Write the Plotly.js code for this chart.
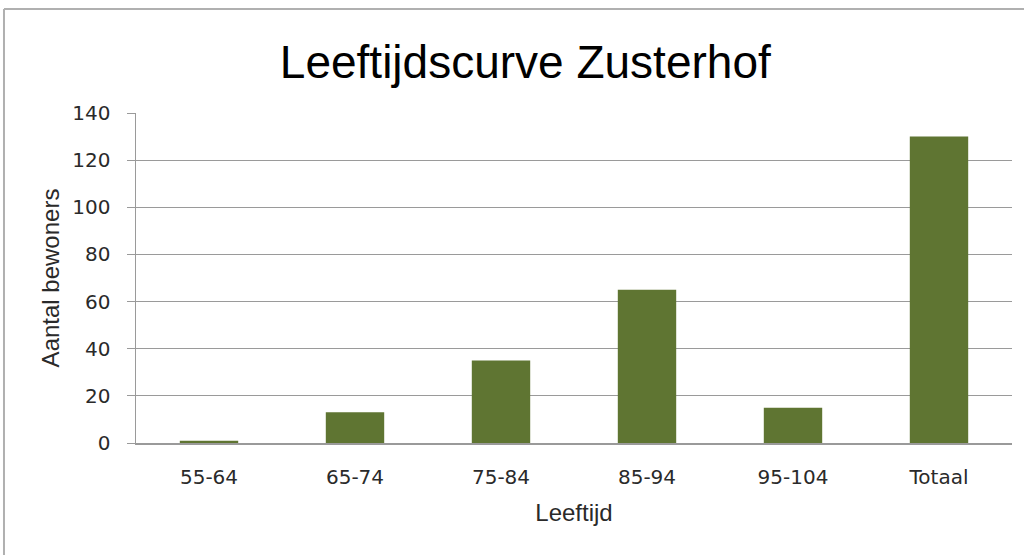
<!DOCTYPE html>
<html>
<head>
<meta charset="utf-8">
<script src="https://cdn.plot.ly/plotly-3.0.1.min.js"></script>
<style>html,body{margin:0;padding:0;background:#fff;}#chart{width:1024px;height:555px;}</style>
</head>
<body>
<div id="chart"></div>
<script>
const categories = ["55-64", "65-74", "75-84", "85-94", "95-104", "Totaal"];
const residents = [1, 13, 35, 65, 15, 130];
const yTicks = [0, 20, 40, 60, 80, 100, 120, 140];

const trace = {
  type: "bar",
  x: categories,
  y: residents,
  marker: {color: "#5f7532"},
  hoverinfo: "x+y"
};

const layout = {
  width: 1024,
  height: 555,
  margin: {l: 136, r: 12, t: 113, b: 112},
  paper_bgcolor: "#ffffff",
  plot_bgcolor: "#ffffff",
  bargap: 0.6,
  showlegend: false,
  title: {
    text: "Leeftijdscurve Zusterhof",
    font: {family: "Liberation Sans, Arial, sans-serif", size: 46, color: "#000000"},
    x: 0.513, xanchor: "center",
    y: 0.888, yanchor: "middle"
  },
  xaxis: {
    type: "category",
    automargin: false,
    showline: true,
    linecolor: "#9a9a9a",
    linewidth: 1.5,
    showgrid: false,
    ticks: "",
    ticklabelstandoff: 15,
    tickfont: {family: "DejaVu Sans, Verdana, sans-serif", size: 20, color: "#2a2a2a"},
    title: {text: "Leeftijd", font: {family: "Liberation Sans, Arial, sans-serif", size: 24, color: "#2a2a2a"}, standoff: 16},
    fixedrange: true
  },
  yaxis: {
    automargin: false,
    range: [0, 140],
    tickvals: yTicks,
    showline: true,
    linecolor: "#9a9a9a",
    linewidth: 1.5,
    showgrid: true,
    gridcolor: "#9a9a9a",
    gridwidth: 1,
    zeroline: false,
    ticks: "outside",
    ticklen: 8,
    tickcolor: "#9a9a9a",
    ticklabelstandoff: 12,
    tickfont: {family: "DejaVu Sans, Verdana, sans-serif", size: 20, color: "#2a2a2a"},
    title: {text: "Aantal bewoners", font: {family: "Liberation Sans, Arial, sans-serif", size: 24, color: "#2a2a2a"}, standoff: 6},
    fixedrange: true
  },
  shapes: [
    {type: "line", xref: "paper", yref: "paper", x0: -0.1507, x1: 1.02, y0: 1.315, y1: 1.315, line: {color: "#b0b0b0", width: 2}},
    {type: "line", xref: "paper", yref: "paper", x0: -0.1507, x1: -0.1507, y0: 1.315, y1: -0.4, line: {color: "#b0b0b0", width: 2}}
  ]
};

Plotly.newPlot("chart", [trace], layout, {displayModeBar: false, staticPlot: true});
</script>
</body>
</html>
